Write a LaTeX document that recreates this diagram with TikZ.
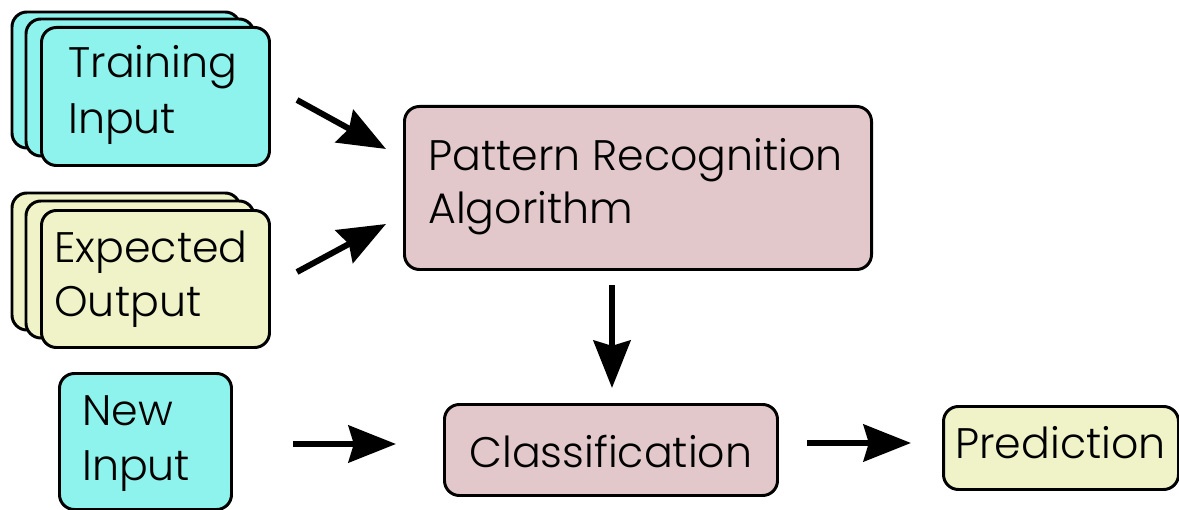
\documentclass[tikz,border=0pt]{standalone}
\usepackage{fontspec}
\setmainfont{Poppins}[UprightFont=* Light]
\usetikzlibrary{arrows.meta}
\definecolor{cyanf}{RGB}{142,243,236}
\definecolor{yelf}{RGB}{240,243,200}
\definecolor{pinkf}{RGB}{226,200,203}
\tikzset{
  box/.style={draw=black, line width=1.7pt, rounded corners=8.5pt, inner sep=0pt},
  lbl/.style={anchor=base west, inner sep=0pt, font=\fontsize{24.3}{28}\selectfont},
  arr/.style={line width=3.4pt, -{Stealth[length=27pt, width=21pt, inset=3pt]}}
}
\begin{document}
\begin{tikzpicture}[x=0.02cm, y=-0.02cm]
\useasboundingbox (0,0) rectangle (1179,510);
% Training input stack
\draw[box, fill=cyanf] (12,12) rectangle (240,148);
\draw[box, fill=cyanf] (26,19) rectangle (254,156);
\node[box, fill=cyanf, minimum width={228*0.02cm}, minimum height={138*0.02cm}, anchor=north west] (ti) at (40,26) {};
\node[lbl] (tit1) at (68,78) {Training};
\node[lbl] (tit2) at (68,133) {Input};
% Expected output stack
\draw[box, fill=yelf] (12,193) rectangle (240,330);
\draw[box, fill=yelf] (26,201) rectangle (254,338);
\node[box, fill=yelf, minimum width={228*0.02cm}, minimum height={137*0.02cm}, anchor=north west] (eo) at (40,209) {};
\node[lbl] (eot1) at (54,262) {Expected};
\node[lbl] (eot2) at (54,316) {Output};
% New input
\node[box, fill=cyanf, minimum width={172*0.02cm}, minimum height={136*0.02cm}, anchor=north west] (ni) at (58,372) {};
\node[lbl] (nit1) at (82,425) {New};
\node[lbl] (nit2) at (82,480) {Input};
% Pattern recognition
\node[box, fill=pinkf, minimum width={467*0.02cm}, minimum height={163*0.02cm}, anchor=north west] (pr) at (403,105) {};
\node[lbl] (prt1) at (428,170) {Pattern Recognition};
\node[lbl] (prt2) at (428,223) {Algorithm};
% Classification
\node[box, fill=pinkf, minimum width={333*0.02cm}, minimum height={91*0.02cm}, anchor=north west] (cl) at (443,403) {};
\node[lbl] (clt) at (469,467) {Classification};
% Prediction
\node[box, fill=yelf, minimum width={235*0.02cm}, minimum height={83*0.02cm}, anchor=north west] (pd) at (942,405) {};
\node[lbl] (pdt) at (955,458) {Prediction};
% arrow coordinates
\coordinate (a1s) at (297,100); \coordinate (a1e) at (386,149);
\coordinate (a2s) at (297,272); \coordinate (a2e) at (386,224);
\coordinate (a3s) at (612,285); \coordinate (a3e) at (612,388);
\coordinate (a4s) at (293,444); \coordinate (a4e) at (396,444);
\coordinate (a5s) at (807,443); \coordinate (a5e) at (911,443);
\draw[arr] (a1s) -- (a1e);
\draw[arr] (a2s) -- (a2e);
\draw[arr] (a3s) -- (a3e);
\draw[arr] (a4s) -- (a4e);
\draw[arr] (a5s) -- (a5e);
\end{tikzpicture}
\end{document}
